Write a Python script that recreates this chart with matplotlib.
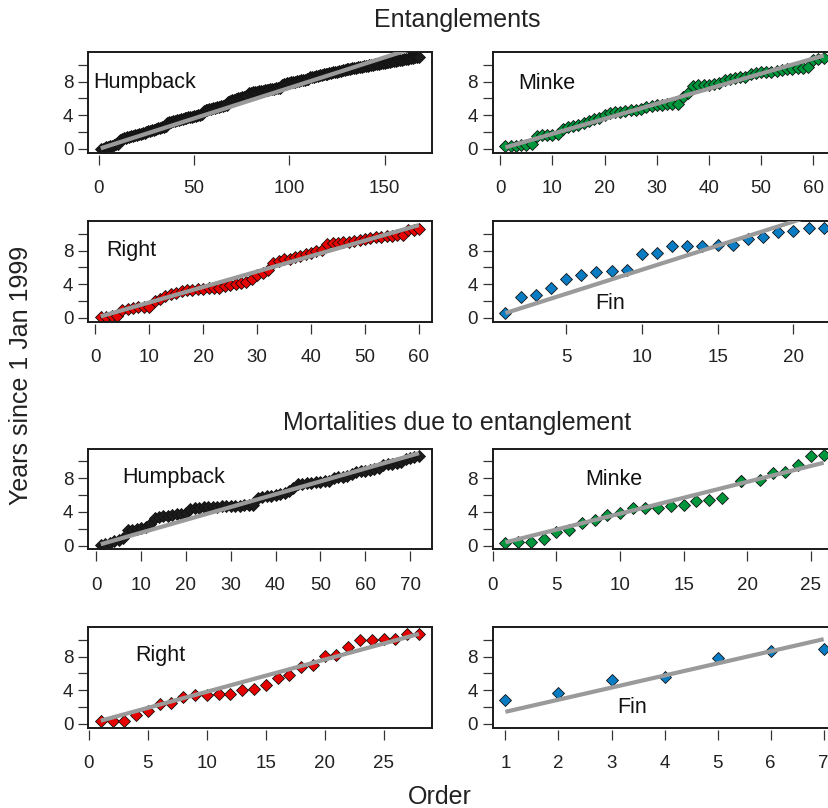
import numpy as np
import matplotlib
matplotlib.use("Agg")
import matplotlib.pyplot as plt
from matplotlib.ticker import MultipleLocator

plt.rcParams['font.family'] = ['Liberation Sans', 'DejaVu Sans']

# Years since 1 Jan 1999, sorted by order
# Entanglements
hump_ent = [0.00, 0.04, 0.10, 0.18, 0.25, 0.32, 0.40, 0.48, 0.55, 0.62,
            1.10, 1.18, 1.25, 1.30, 1.36, 1.42, 1.48, 1.54, 1.60, 1.66,
            1.72, 1.78, 1.85, 1.92, 2.00, 2.08, 2.15, 2.22, 2.30, 2.38,
            2.45, 2.52, 2.58, 2.62, 2.68, 3.10, 3.18, 3.24, 3.30, 3.36,
            3.42, 3.48, 3.54, 3.60, 3.65, 3.70, 3.75, 3.80, 3.85, 3.90,
            3.95, 4.00, 4.05, 4.10, 4.55, 4.62, 4.68, 4.74, 4.80, 4.86,
            4.92, 4.98, 5.04, 5.10, 5.15, 5.20, 5.25, 5.60, 5.68, 5.76,
            5.84, 5.92, 6.00, 6.06, 6.12, 6.18, 6.24, 6.30, 6.62, 6.68,
            6.72, 6.76, 6.80, 6.84, 6.88, 6.92, 6.96, 7.00, 7.04, 7.08,
            7.12, 7.16, 7.20, 7.24, 7.28, 7.65, 7.70, 7.75, 7.80, 7.85,
            7.90, 7.95, 8.00, 8.05, 8.10, 8.15, 8.20, 8.25, 8.30, 8.35,
            8.50, 8.55, 8.60, 8.65, 8.70, 8.75, 8.80, 8.85, 8.90, 8.95,
            9.00, 9.05, 9.10, 9.15, 9.20, 9.25, 9.30, 9.35, 9.40, 9.45,
            9.50, 9.54, 9.58, 9.62, 9.66, 9.70, 9.74, 9.78, 9.82, 9.86,
            9.90, 9.94, 9.98, 10.02, 10.06, 10.10, 10.14, 10.18, 10.22, 10.26,
            10.30, 10.34, 10.38, 10.42, 10.46, 10.50, 10.54, 10.58, 10.62, 10.66,
            10.70, 10.74, 10.78, 10.82, 10.86, 10.90, 10.94, 10.98]
minke_ent = [0.30, 0.35, 0.40, 0.45, 0.50, 0.60, 1.50, 1.60, 1.65, 1.70,
             1.80, 2.35, 2.55, 2.75, 2.90, 3.05, 3.30, 3.50, 3.70, 4.00,
             4.25, 4.35, 4.42, 4.50, 4.58, 4.65, 4.72, 5.00, 5.10, 5.20,
             5.25, 5.30, 5.35, 5.40, 6.20, 6.70, 7.50, 7.55, 7.60, 7.65,
             7.70, 7.80, 8.20, 8.30, 8.40, 8.50, 8.60, 8.90, 9.00, 9.10,
             9.15, 9.20, 9.30, 9.40, 9.50, 9.55, 9.60, 9.65, 9.70, 10.60,
             10.75, 10.85]
right_ent = [0.10, 0.15, 0.20, 0.25, 1.00, 1.10, 1.20, 1.25, 1.30, 1.35,
             2.00, 2.30, 2.60, 2.80, 3.00, 3.15, 3.30, 3.35, 3.40, 3.45,
             3.50, 3.55, 3.60, 3.80, 3.90, 4.00, 4.10, 4.25, 4.60, 5.10,
             5.40, 5.70, 6.50, 6.75, 6.95, 7.05, 7.20, 7.35, 7.60, 7.75,
             7.90, 8.10, 8.80, 8.90, 8.95, 9.00, 9.05, 9.15, 9.30, 9.40,
             9.50, 9.60, 9.65, 9.70, 9.75, 9.80, 9.85, 10.40, 10.50, 10.60]
fin_ent = [0.60, 2.45, 2.70, 3.55, 4.60, 5.10, 5.50, 5.60, 5.70, 7.55,
           7.70, 8.50, 8.55, 8.60, 8.65, 8.70, 9.40, 9.60, 10.25, 10.35,
           10.70, 10.72]

# Mortalities due to entanglement
hump_mort = [0.05, 0.15, 0.30, 0.50, 0.70, 0.85, 1.80, 1.90, 2.00, 2.10,
             2.20, 2.50, 3.30, 3.40, 3.50, 3.55, 3.60, 3.70, 3.80, 3.90,
             4.40, 4.45, 4.50, 4.55, 4.58, 4.60, 4.62, 4.65, 4.68, 4.70,
             4.72, 4.75, 4.78, 4.80, 4.85, 5.70, 5.78, 5.85, 5.92, 6.00,
             6.08, 6.30, 6.50, 6.80, 7.30, 7.35, 7.40, 7.45, 7.50, 7.55,
             7.62, 7.70, 8.00, 8.10, 8.20, 8.30, 8.45, 8.80, 8.85, 8.90,
             9.00, 9.10, 9.20, 9.60, 9.65, 9.70, 9.80, 9.90, 10.30, 10.45,
             10.55, 10.70]
minke_mort = [0.35, 0.38, 0.42, 0.80, 1.60, 1.85, 2.65, 3.00, 3.60, 3.85,
              4.45, 4.45, 4.50, 4.65, 4.80, 5.30, 5.45, 5.65, 7.70, 7.70,
              7.75, 8.65, 8.70, 9.60, 10.70, 10.80]
minke_mort_order = [1, 2, 3, 4, 5, 6, 7, 8, 9, 10, 11, 12, 13, 14, 15, 16, 17, 18,
                    19.5, 19.5, 21, 22, 23, 24, 25, 26]
right_mort = [0.30, 0.35, 0.40, 1.10, 1.50, 2.35, 2.50, 3.25, 3.40, 3.45,
              3.55, 3.60, 4.05, 4.20, 4.60, 5.50, 5.80, 6.80, 7.00, 8.10,
              8.20, 9.10, 9.95, 10.00, 10.05, 10.10, 10.70, 10.75]
fin_mort = [2.80, 3.65, 5.20, 5.60, 7.85, 8.65, 8.90]

species = ["Humpback", "Minke", "Right", "Fin"]
colors = {"Humpback": "#1c1c1c", "Minke": "#00963c", "Right": "#e60000", "Fin": "#0a7cc4"}

W, H = 829, 808
fig = plt.figure(figsize=(W / 100, H / 100), dpi=100)

col_left = [88, 492.7]
box_w = 343.7
box_h = 100.5
row_bottom = [152.7, 321.7, 549.3, 727.7]

panels = [
    # (values, order, species, row, col, tick step, label pos in axes fraction)
    (hump_ent, None, "Humpback", 0, 0, 50, (0.014, 0.70)),
    (minke_ent, None, "Minke", 0, 1, 10, (0.073, 0.69)),
    (right_ent, None, "Right", 1, 0, 10, (0.052, 0.71)),
    (fin_ent, None, "Fin", 1, 1, 5, (0.298, 0.18)),
    (hump_mort, None, "Humpback", 2, 0, 10, (0.100, 0.71)),
    (minke_mort, minke_mort_order, "Minke", 2, 1, 5, (0.269, 0.69)),
    (right_mort, None, "Right", 3, 0, 5, (0.137, 0.72)),
    (fin_mort, None, "Fin", 3, 1, 1, (0.363, 0.20)),
]

for vals, order, sp, r, c, step, lab in panels:
    y = np.array(vals)
    x = np.arange(1, len(y) + 1) if order is None else np.array(order, dtype=float)
    ax = fig.add_axes([col_left[c] / W, 1 - row_bottom[r] / H, box_w / W, box_h / H])

    ax.plot(x, y, linestyle="none", marker="D", markersize=6.6,
            markerfacecolor=colors[sp], markeredgecolor="#111111",
            markeredgewidth=0.6, zorder=2)

    # regression through the origin
    b = np.sum(x * y) / np.sum(x * x)
    xl = np.array([x[0], x[-1]])
    ax.plot(xl, b * xl, color="#9a9a9a", linewidth=3.0, solid_capstyle="butt", zorder=3)

    span = x[-1] - x[0]
    lo, hi = x[0] - 0.04 * span, x[-1] + 0.04 * span
    ax.set_xlim(lo, hi)
    ax.set_ylim(-0.45, 11.5)

    for s in ax.spines.values():
        s.set_linewidth(1.4)
        s.set_color("#1a1a1a")

    ax.yaxis.set_major_locator(MultipleLocator(4))
    ax.yaxis.set_minor_locator(MultipleLocator(2))
    ax.tick_params(axis="y", which="both", direction="out", length=7.5, width=0.9,
                   color="#333333", labelsize=13.5, labelcolor="#222222", pad=3)
    ax.tick_params(axis="y", which="minor", labelleft=False)
    ax.tick_params(axis="x", bottom=False, labelbottom=False)

    # detached x axis like R's axis()
    ticks = np.arange(np.ceil(lo / step) * step, hi, step) + 0.0
    sec = ax.secondary_xaxis(-0.018)
    sec.set_xticks(ticks)
    sec.set_xticklabels([f"{abs(t):g}" if t == 0 else f"{t:g}" for t in ticks])
    sec.spines["bottom"].set_visible(False)
    sec.tick_params(axis="x", direction="out", length=7.5, width=0.9, color="#333333",
                    labelsize=13.5, labelcolor="#222222", pad=11)

    ax.text(lab[0], lab[1], sp, transform=ax.transAxes, ha="left", va="center",
            fontsize=15.5, color="#111111")

fig.text(457 / W, 1 - 20 / H, "Entanglements", ha="center", va="center",
         fontsize=18, color="#222222")
fig.text(457 / W, 1 - 423 / H, "Mortalities due to entanglement", ha="center", va="center",
         fontsize=18, color="#222222")
fig.text(21 / W, 1 - 375 / H, "Years since 1 Jan 1999", rotation=90, ha="center", va="center",
         fontsize=18, color="#222222")
fig.text(440 / W, 1 - 797 / H, "Order", ha="center", va="center",
         fontsize=18, color="#222222")

fig.savefig("out.png", dpi=100)
